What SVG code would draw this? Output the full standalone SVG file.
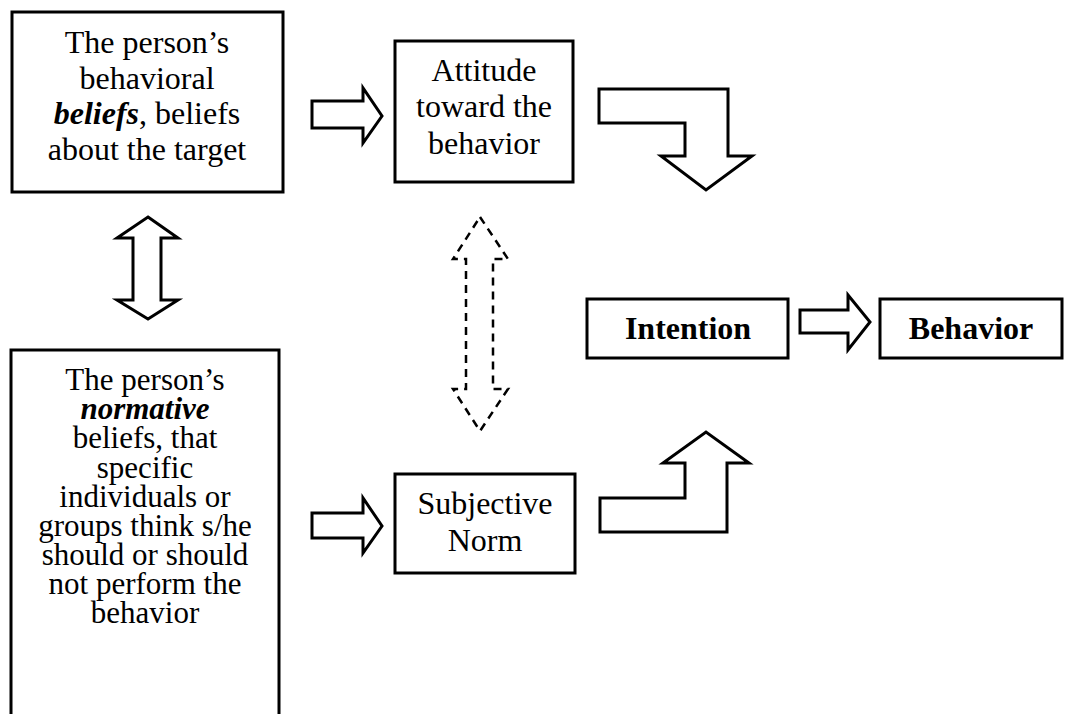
<svg xmlns="http://www.w3.org/2000/svg" width="1065" height="714" viewBox="0 0 1065 714">
<style>
.box{fill:#fff;stroke:#000;stroke-width:3}
.t{font-family:"Liberation Serif","Times New Roman",serif;font-size:32px;fill:#000;text-anchor:middle}
.s{font-size:31px}
.b{font-weight:bold}
.bi{font-weight:bold;font-style:italic}
.arr{fill:#fff;stroke:#000;stroke-width:3;stroke-linejoin:miter}
.dash{fill:none;stroke:#000;stroke-width:2.5;stroke-dasharray:8 6}
</style>
<rect width="1065" height="714" fill="#fff"/>
<g id="connectors">
<path class="arr" d="M312,101 H363 V88 L382,116 L363,143 V128 H312 Z"/>
<path class="arr" d="M312,513 H363 V498 L382,526 L363,553 V538 H312 Z"/>
<path class="arr" d="M599,89 H728 V156 H752 L706,190 L661,156 H685 V123 H599 Z"/>
<path class="arr" d="M600,532 H727 V463 H749 L706,432 L663,463 H685 V498 H600 Z"/>
<path class="arr" d="M148,217 L178,238 H161 V300 H178 L148,319 L117,300 H133 V238 H117 Z"/>
<path class="dash" d="M480,217 L508,259 H493 V389 H508 L480,431 L453,389 H466 V259 H453 Z"/>
<path class="arr" d="M800,310 H848 V295 L870,322 L848,350 V333 H800 Z"/>
</g>
<g id="node-behavioral-beliefs">
<rect class="box" x="12" y="12" width="271" height="180"/>
<text class="t" x="147" y="53">The person’s</text>
<text class="t" x="147" y="88.5">behavioral</text>
<text class="t" x="147" y="124"><tspan class="bi">beliefs</tspan>, beliefs</text>
<text class="t" x="147" y="159.5">about the target</text>
</g>
<g id="node-attitude">
<rect class="box" x="395" y="41" width="178" height="141"/>
<text class="t" x="484" y="81">Attitude</text>
<text class="t" x="484" y="117">toward the</text>
<text class="t" x="484" y="154">behavior</text>
</g>
<g id="node-normative-beliefs">
<rect class="box" x="11" y="350" width="268" height="380"/>
<text class="t s" x="145" y="390">The person’s</text>
<text class="t s bi" x="145" y="419">normative</text>
<text class="t s" x="145" y="448">beliefs, that</text>
<text class="t s" x="145" y="478">specific</text>
<text class="t s" x="145" y="507">individuals or</text>
<text class="t s" x="145" y="536">groups think s/he</text>
<text class="t s" x="145" y="565">should or should</text>
<text class="t s" x="145" y="594">not perform the</text>
<text class="t s" x="145" y="623">behavior</text>
</g>
<g id="node-subjective-norm">
<rect class="box" x="395" y="474" width="180" height="99"/>
<text class="t" x="485" y="514">Subjective</text>
<text class="t" x="485" y="551">Norm</text>
</g>
<g id="node-intention">
<rect class="box" x="587" y="299" width="201" height="59"/>
<text class="t b" x="688" y="339">Intention</text>
</g>
<g id="node-behavior">
<rect class="box" x="880" y="299" width="182" height="59"/>
<text class="t b" x="971" y="339">Behavior</text>
</g>
</svg>
